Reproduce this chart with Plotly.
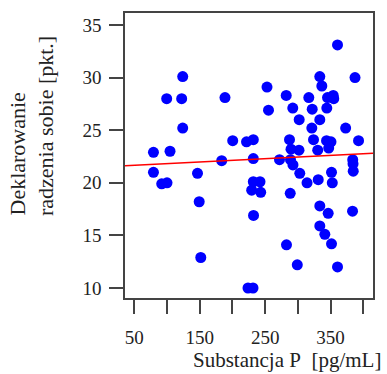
import plotly.graph_objects as go

# Substancja P [pg/mL] vs. deklarowanie radzenia sobie [pkt.]
substancja_p = [
    124.0, 99.5, 122.4, 188.6, 124.0, 79.3, 104.6, 200.4, 221.5, 231.9,
    183.6, 79.3, 91.9, 100.0, 146.6, 149.2, 151.6, 223.8, 231.4, 231.9,
    231.9, 242.1, 229.4, 243.2, 232.2, 252.8, 255.1, 282.2, 292.2, 316.7,
    321.9, 345.3, 354.0, 354.8, 344.2, 302.0, 333.5, 321.3, 373.0, 360.6,
    333.5, 336.6, 387.3, 287.2, 289.5, 301.7, 271.9, 288.7, 292.5, 323.9,
    343.8, 350.6, 330.3, 347.1, 392.7, 383.8, 384.3, 384.6, 302.9, 314.0,
    331.1, 351.4, 352.6, 288.3, 333.5, 346.3, 383.5, 333.5, 341.2, 351.4,
    282.6, 299.1, 360.6,
]
radzenie_sobie = [
    30.1, 28.0, 28.0, 28.1, 25.2, 22.9, 23.0, 24.0, 23.9, 24.1,
    22.1, 21.0, 19.9, 20.0, 20.9, 18.2, 12.9, 10.0, 10.0, 22.3,
    20.1, 20.1, 19.3, 19.1, 16.9, 29.1, 26.9, 28.3, 27.1, 28.1,
    27.0, 28.1, 28.3, 28.0, 27.1, 26.0, 26.0, 25.2, 25.2, 33.1,
    30.1, 29.2, 30.0, 24.1, 23.2, 23.1, 22.2, 22.2, 21.7, 24.1,
    24.0, 23.9, 23.1, 23.3, 24.0, 22.2, 21.8, 21.1, 20.9, 20.0,
    20.3, 21.0, 20.0, 19.0, 17.8, 17.1, 17.3, 15.9, 15.1, 14.2,
    14.1, 12.2, 12.0,
]

# Fitted linear trend (intercept, slope)
trend_intercept = 21.52
trend_slope = 0.00311

x_range = [35.8, 414.8]
y_range = [9.05, 36.14]

x_tick_vals = [50, 100, 150, 200, 250, 300, 350, 400]
x_tick_text = ["50", "", "150", "", "250", "", "350", ""]
y_tick_vals = [10, 15, 20, 25, 30, 35]

serif = "Liberation Serif"
text_col = "#222222"
axis_col = "#444444"

fig = go.Figure()

fig.add_trace(go.Scatter(
    x=substancja_p, y=radzenie_sobie, mode="markers",
    marker=dict(size=11, color="#0000FF", line=dict(width=0)),
    showlegend=False, hoverinfo="skip",
))

fig.add_trace(go.Scatter(
    x=x_range,
    y=[trend_intercept + trend_slope * v for v in x_range],
    mode="lines", line=dict(color="#FF0000", width=1.5),
    showlegend=False, hoverinfo="skip",
))

axis_common = dict(
    showgrid=False, zeroline=False,
    showline=True, mirror=True, linecolor=axis_col, linewidth=1.5,
    ticks="outside", ticklen=14, tickwidth=1.5, tickcolor=axis_col,
    tickfont=dict(family=serif, size=19, color=text_col),
)

fig.update_layout(
    width=387, height=374,
    margin=dict(l=125, r=14, t=13, b=76),
    paper_bgcolor="white", plot_bgcolor="white",
    font=dict(family=serif, color=text_col),
    xaxis=dict(range=x_range, tickvals=x_tick_vals, ticktext=x_tick_text,
               ticklabelstandoff=7, **axis_common),
    yaxis=dict(range=y_range, tickvals=y_tick_vals, ticklabelstandoff=4,
               **axis_common),
)

plot_w = 387 - 125 - 14
plot_h = 374 - 13 - 76

def px_x(p):
    return (p - 125) / plot_w

def px_y(p):
    return (374 - 76 - p) / plot_h

fig.add_annotation(
    text="Substancja P\u00a0 [pg/mL]", xref="paper", yref="paper",
    x=px_x(287), y=px_y(374), xanchor="center", yanchor="bottom",
    showarrow=False, font=dict(family=serif, size=21, color=text_col),
)
fig.add_annotation(
    text="Deklarowanie", xref="paper", yref="paper", textangle=-90,
    x=px_x(17), y=px_y(218), xanchor="center", yanchor="bottom",
    showarrow=False, font=dict(family=serif, size=22, color=text_col),
)
fig.add_annotation(
    text="radzenia sobie [pkt.]", xref="paper", yref="paper", textangle=-90,
    x=px_x(45), y=px_y(218), xanchor="center", yanchor="bottom",
    showarrow=False, font=dict(family=serif, size=22, color=text_col),
)

fig.write_html("out.html")
